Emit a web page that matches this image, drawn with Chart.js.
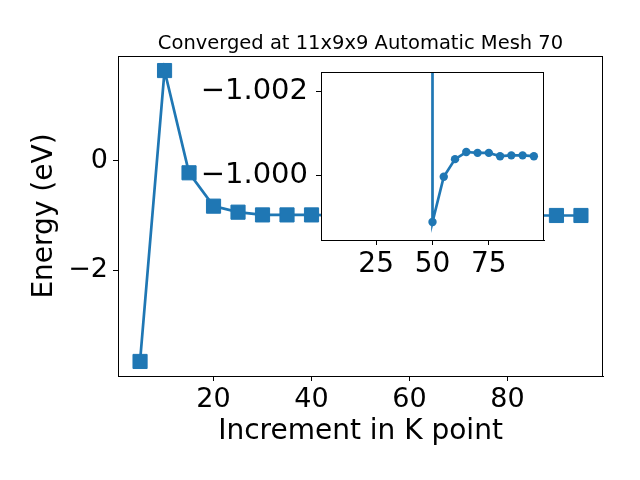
<!DOCTYPE html>
<html>
<head>
<meta charset="utf-8">
<script src="https://cdn.jsdelivr.net/npm/chart.js@4"></script>
<style>
  body { margin: 0; background: #fff; }
  #wrap { position: relative; width: 640px; height: 480px; }
  #main { position: absolute; left: 0; top: 0; }
  #inset { position: absolute; left: 190px; top: 42px; }
</style>
</head>
<body>
<div id="wrap">
  <canvas id="main" width="640" height="480"></canvas>
  <canvas id="inset" width="360" height="250"></canvas>
</div>
<script>
// k-point increments and total energies
const kpoints = [5, 10, 15, 20, 25, 30, 35, 40, 45, 50, 55, 60, 65, 70, 75, 80, 85, 90, 95];
const energies = [-3.67, 1.65, -0.22, -0.83, -0.94, -0.99, -0.99, -0.99, -1.0,
                  -0.99888, -0.99996, -1.00038, -1.00055, -1.00053, -1.00053,
                  -1.00045, -1.00047, -1.00047, -1.00045];

// inset series (zoom on the converged tail)
const insetK = [50, 50, 55, 60, 65, 70, 75, 80, 85, 90, 95];
const insetE = [-1.01, -0.99888, -0.99996, -1.00038, -1.00055, -1.00053, -1.00053,
                -1.00045, -1.00047, -1.00047, -1.00045];

const mainXTicks = [20, 40, 60, 80];
const mainYTicks = [-2, 0];
const insetXTicks = [25, 50, 75];
const insetYTicks = [-1.002, -1.000];

const title = 'Converged at 11x9x9 Automatic Mesh 70';
const blue = '#1f77b4';
const font = 'DejaVu Sans';

function fmt(v, d) {
    const s = Math.abs(v).toFixed(d);
    return v < 0 ? '\u2212' + s : s;
}

// frame around the plot area, optional white fill, optional title
const framePlugin = {
    id: 'frame',
    beforeDraw(chart, args, opts) {
        const a = chart.chartArea;
        if (opts.fill) {
            const ctx = chart.ctx;
            ctx.save();
            ctx.fillStyle = '#fff';
            ctx.fillRect(a.left, a.top, a.right - a.left, a.bottom - a.top);
            ctx.restore();
        }
    },
    afterDraw(chart, args, opts) {
        const a = chart.chartArea;
        const ctx = chart.ctx;
        ctx.save();
        ctx.strokeStyle = '#000';
        ctx.lineWidth = 1;
        ctx.strokeRect(a.left + 0.5, a.top + 0.5, a.right - a.left - 1, a.bottom - a.top);
        if (opts.title) {
            ctx.fillStyle = '#000';
            ctx.font = '19.5px "' + font + '"';
            ctx.textAlign = 'center';
            ctx.textBaseline = 'alphabetic';
            ctx.fillText(opts.title, (a.left + a.right) / 2, 49);
        }
        ctx.restore();
    }
};

function axis(min, max, ticks, digits, size, pad, extra) {
    return Object.assign({
        type: 'linear',
        min: min,
        max: max,
        afterBuildTicks: s => { s.ticks = ticks.map(v => ({ value: v })); },
        ticks: {
            autoSkip: false,
            maxRotation: 0,
            padding: pad,
            color: '#000',
            font: { family: font, size: size },
            callback: v => fmt(v, digits)
        },
        grid: { display: true, drawOnChartArea: false, drawTicks: true, tickLength: 5, color: '#000' },
        border: { display: true, color: '#000', width: 1 }
    }, extra);
}

new Chart(document.getElementById('main'), {
    type: 'line',
    data: {
        datasets: [{
            data: kpoints.map((k, i) => ({ x: k, y: energies[i] })),
            borderColor: blue,
            backgroundColor: blue,
            borderWidth: 2.7,
            pointStyle: 'rect',
            pointRadius: 10,
            pointBorderWidth: 1,
            tension: 0
        }]
    },
    options: {
        responsive: false,
        animation: false,
        layout: { padding: { left: 0, right: 37, top: 56, bottom: 0 } },
        plugins: {
            legend: { display: false },
            tooltip: { enabled: false },
            title: { display: false },
            frame: { fill: false, title: title }
        },
        scales: {
            x: axis(0.5, 99.5, mainXTicks, 0, 27, 3, {
                afterFit: s => { s.height = 104; },
                title: {
                    display: true,
                    text: 'Increment in K point',
                    color: '#000',
                    font: { family: font, size: 28 },
                    padding: { top: 0, bottom: 31 }
                }
            }),
            y: axis(-3.936, 1.916, mainYTicks, 0, 27, 5, {
                afterFit: s => { s.width = 118; },
                title: {
                    display: true,
                    text: 'Energy (eV)',
                    color: '#000',
                    font: { family: font, size: 28 },
                    padding: { top: 28, bottom: 0 }
                }
            })
        }
    },
    plugins: [framePlugin]
});

// inset: zoomed y range (inverted)
new Chart(document.getElementById('inset'), {
    type: 'line',
    data: {
        datasets: [{
            data: insetK.map((k, i) => ({ x: k, y: insetE[i] })),
            borderColor: blue,
            backgroundColor: blue,
            borderWidth: 2.7,
            pointStyle: 'circle',
            pointRadius: 4.2,
            pointBorderWidth: 0,
            tension: 0
        }]
    },
    options: {
        responsive: false,
        animation: false,
        layout: { padding: { left: 0, right: 6, top: 30, bottom: 0 } },
        plugins: {
            legend: { display: false },
            tooltip: { enabled: false },
            frame: { fill: true }
        },
        scales: {
            x: axis(0.5, 99.5, insetXTicks, 0, 28, 3, {
                afterFit: s => { s.height = 52; }
            }),
            y: axis(-1.00246, -0.99845, insetYTicks, 3, 29, 8, {
                reverse: true,
                afterFit: s => { s.width = 131; }
            })
        }
    },
    plugins: [framePlugin]
});
</script>
</body>
</html>
